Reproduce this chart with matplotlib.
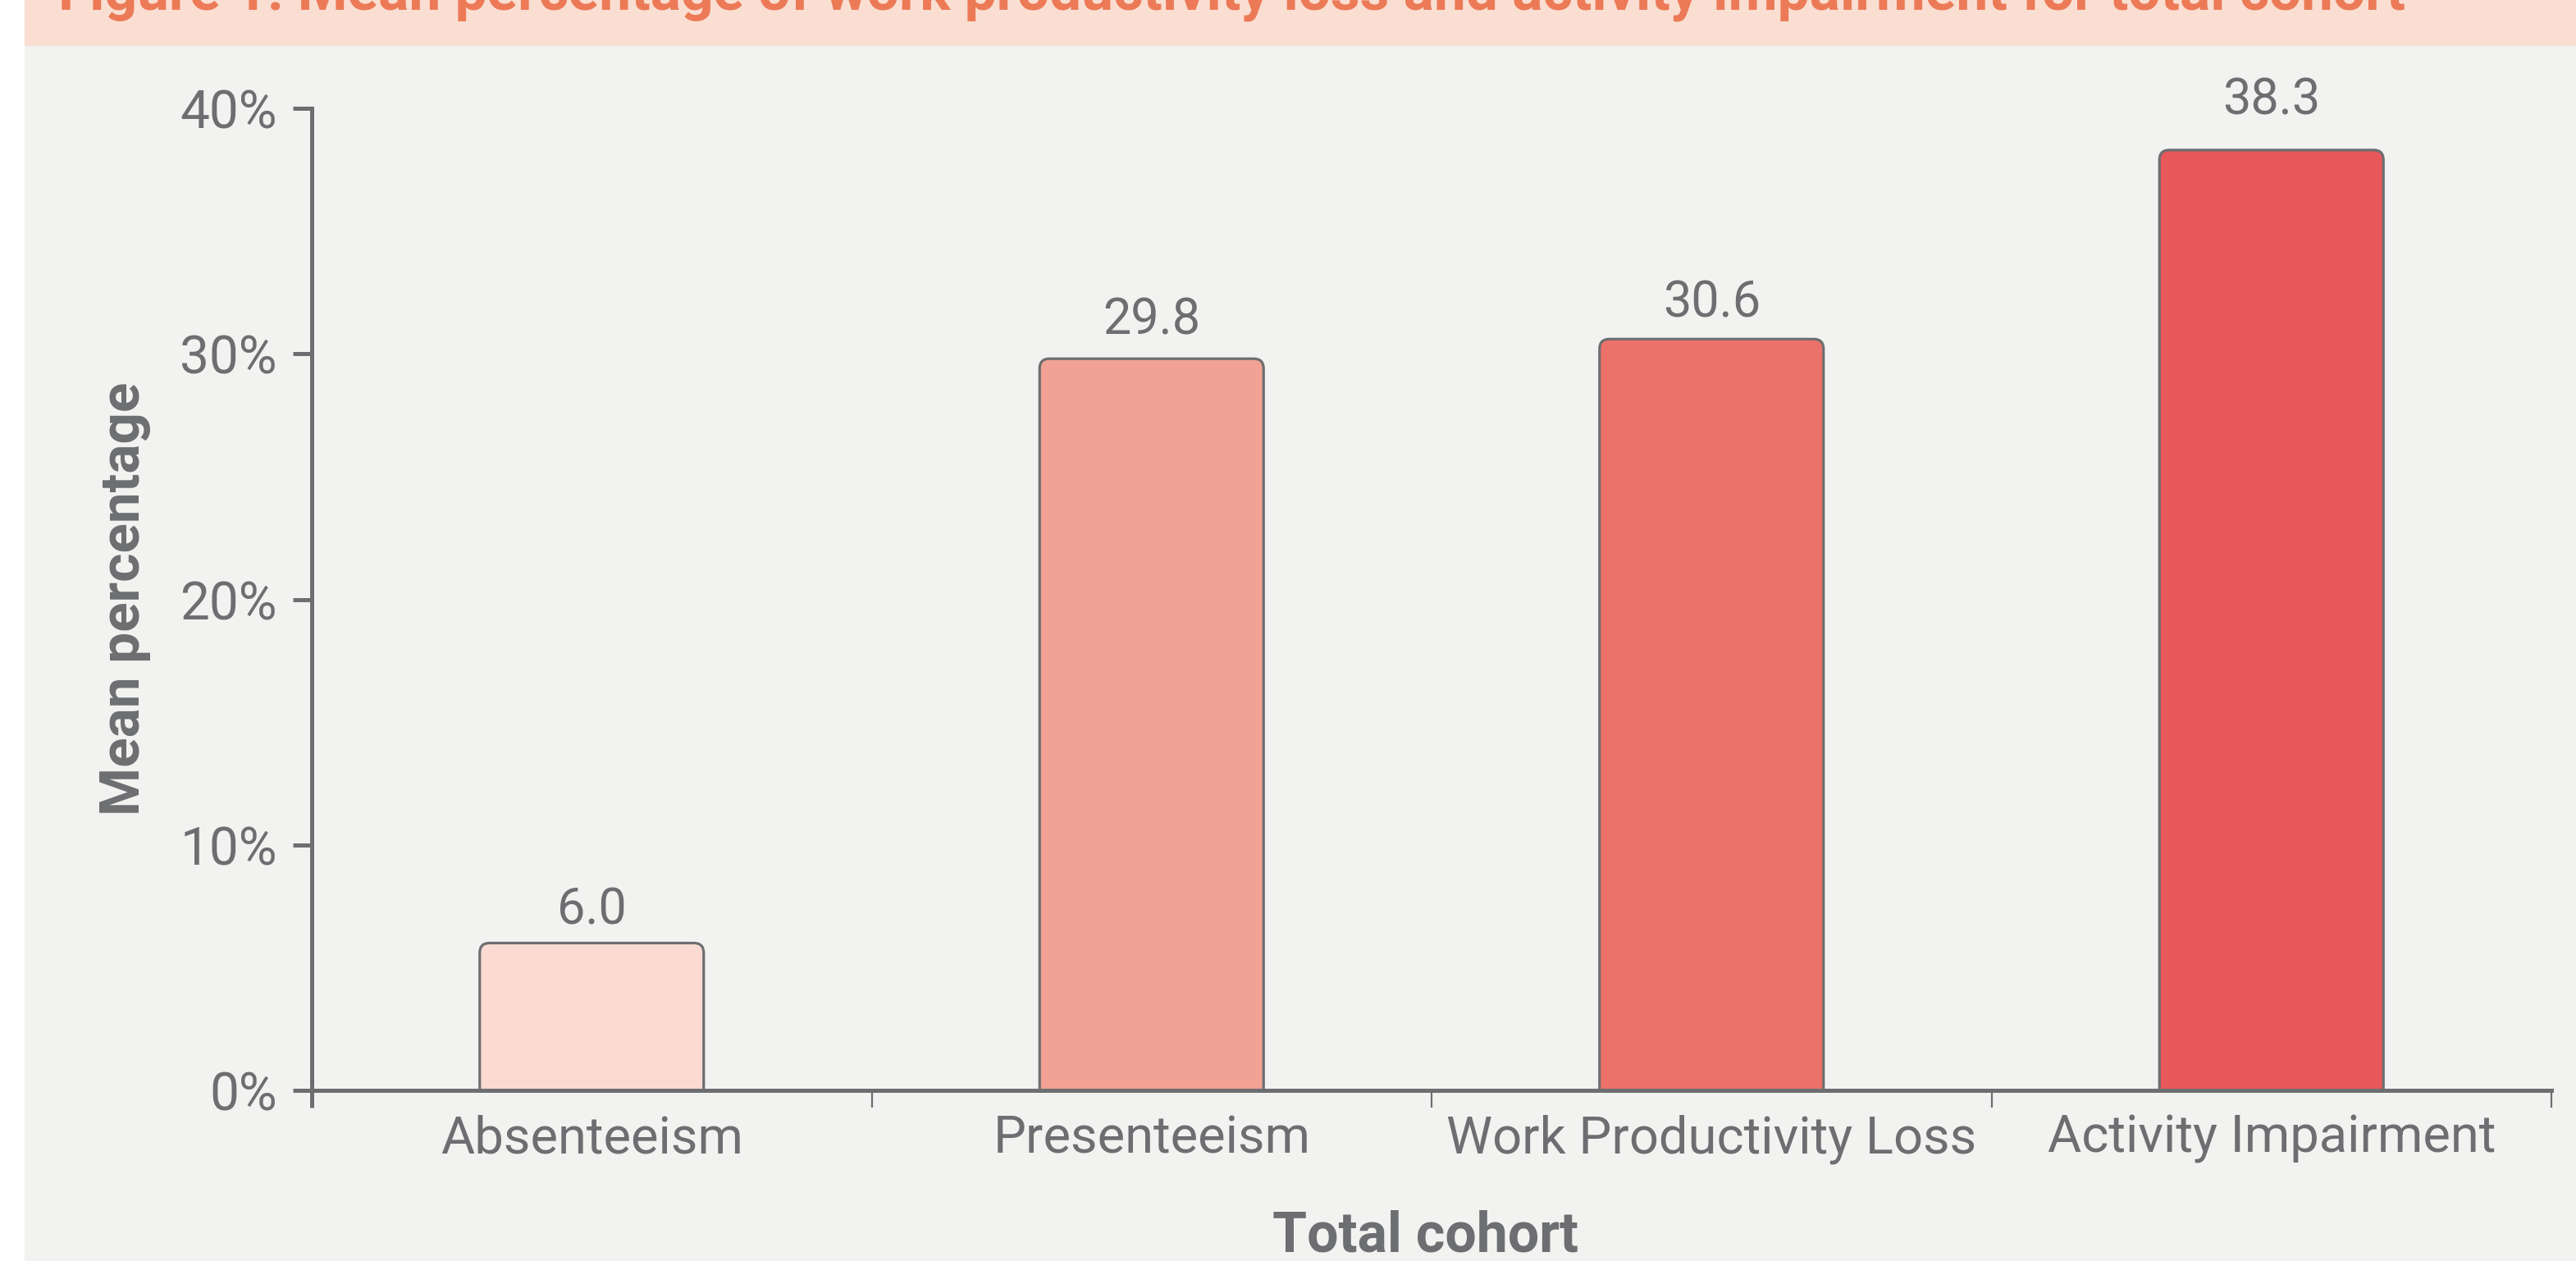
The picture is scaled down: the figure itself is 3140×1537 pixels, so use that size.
import matplotlib
matplotlib.use('Agg')
import matplotlib.pyplot as plt
from matplotlib.patches import Rectangle, FancyBboxPatch

# Data
categories = ['Absenteeism', 'Presenteeism', 'Work Productivity Loss', 'Activity Impairment']
values = [6.0, 29.8, 30.6, 38.3]
value_labels = ['6.0', '29.8', '30.6', '38.3']
y_ticks = [0, 10, 20, 30, 40]
y_tick_labels = ['0%', '10%', '20%', '30%', '40%']

# Styling
bar_colors = ['#FBDAD2', '#F1A294', '#EC7269', '#E8585A']
label_gap_pt = [16.5, 21.5, 19.5, 31]   # gap between bar top and value label
grey = '#6D6E71'
title_color = '#EC7A57'
band_color = '#FADED2'
panel_color = '#F2F2F0'
FONT = ['Roboto', 'DejaVu Sans']

plt.rcParams['font.family'] = FONT

W, H, DPI = 3140, 1537, 100
fig = plt.figure(figsize=(W / DPI, H / DPI), dpi=DPI)
fig.patch.set_facecolor('white')

# background panel + title band
fig.patches.append(Rectangle((30 / W, 0), 1 - 30 / W, 1, transform=fig.transFigure,
                             facecolor=panel_color, edgecolor='none', zorder=-10))
fig.patches.append(Rectangle((30 / W, 1 - 56 / H), 1 - 30 / W, 56 / H, transform=fig.transFigure,
                             facecolor=band_color, edgecolor='none', zorder=-9))

# the title sits partly above the top edge, as in the reference
fig.text(71 / W, 1 - 12 / H,
         'Figure 1: Mean percentage of work productivity loss and activity impairment for total cohort',
         color=title_color, fontsize=50, fontweight='bold', ha='left', va='baseline')

left, right = 380 / W, 3110 / W
bottom, top = 208 / H, 1405 / H
ax = fig.add_axes([left, bottom, right - left, top - bottom])
ax.set_facecolor('none')

x = list(range(len(categories)))
ax.set_xlim(-0.5, len(categories) - 0.5)
ax.set_ylim(0, 40)

bars = ax.bar(x, values, width=0.4, color=bar_colors)

# replace plain rectangles by bars with rounded top corners
ax_w_px = (right - left) * W
ax_h_px = (top - bottom) * H
px_x = ax_w_px / (len(categories))
px_y = ax_h_px / 40
radius_px = 12
aspect = px_x / px_y
for rect, col in zip(bars.patches, bar_colors):
    x0, w, h = rect.get_x(), rect.get_width(), rect.get_height()
    rect.set_visible(False)
    extra = 3
    p = FancyBboxPatch((x0, -extra), w, h + extra,
                       boxstyle=f'round,pad=0,rounding_size={radius_px / px_x}',
                       mutation_aspect=aspect, facecolor=col, edgecolor=grey,
                       linewidth=2.3, zorder=2)
    ax.add_patch(p)

for xi, v, lab, gap in zip(x, values, value_labels, label_gap_pt):
    ax.annotate(lab, (xi, v), xytext=(0, gap), textcoords='offset points',
                ha='center', va='baseline', fontsize=44, color=grey)

for side in ['top', 'right']:
    ax.spines[side].set_visible(False)
for side in ['left', 'bottom']:
    ax.spines[side].set_color(grey)
    ax.spines[side].set_linewidth(3.6)
    ax.spines[side].set_zorder(3)

ax.set_yticks(y_ticks)
ax.set_yticklabels(y_tick_labels)
ax.tick_params(axis='y', direction='out', length=16.5, width=3.6, color=grey,
               labelsize=46, labelcolor=grey, pad=14)

ax.set_xticks(x)
ax.set_xticklabels(categories)
ax.set_xticks([i - 0.5 for i in range(len(categories) + 1)], minor=True)
ax.tick_params(axis='x', which='major', length=0, labelsize=45.5, labelcolor=grey, pad=21)
ax.tick_params(axis='x', which='minor', direction='out', length=15, width=1.6, color=grey)
first = ax.xaxis.get_minor_ticks()[0]
first.tick1line.set_markeredgewidth(3.6)

fig.text(152 / W, 1 - 730 / H, 'Mean percentage', rotation=90, ha='center', va='center',
         fontsize=48.5, fontweight='bold', color=grey)
fig.text(1737 / W, 12 / H, 'Total cohort', ha='center', va='baseline',
         fontsize=49, fontweight='bold', color=grey)

fig.savefig('out.png', dpi=DPI, facecolor=fig.get_facecolor())
